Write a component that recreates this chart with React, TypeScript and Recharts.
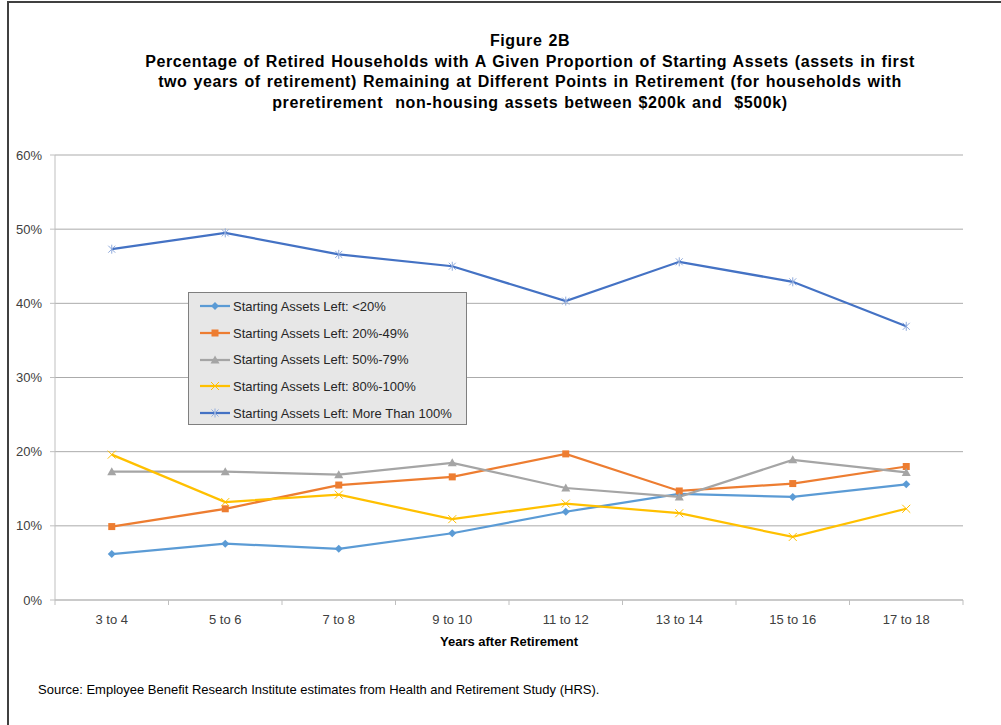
import { LineChart, Line, XAxis, YAxis, CartesianGrid, Legend } from 'recharts';

const periods = ['3 to 4', '5 to 6', '7 to 8', '9 to 10', '11 to 12', '13 to 14', '15 to 16', '17 to 18'];

const under20 = [6.2, 7.6, 6.9, 9.0, 11.9, 14.3, 13.9, 15.6];
const from20to49 = [9.9, 12.3, 15.5, 16.6, 19.7, 14.7, 15.7, 18.0];
const from50to79 = [17.3, 17.3, 16.9, 18.5, 15.1, 13.9, 18.9, 17.2];
const from80to100 = [19.6, 13.2, 14.2, 10.9, 13.0, 11.7, 8.5, 12.3];
const over100 = [47.3, 49.5, 46.6, 45.0, 40.3, 45.6, 42.9, 36.9];

const yTicks = [0, 10, 20, 30, 40, 50, 60];

const seriesNames = [
  'Starting Assets Left: <20%',
  'Starting Assets Left: 20%-49%',
  'Starting Assets Left: 50%-79%',
  'Starting Assets Left: 80%-100%',
  'Starting Assets Left: More Than 100%',
];

const data = periods.map((p, i) => ({
  period: p,
  s1: under20[i],
  s2: from20to49[i],
  s3: from50to79[i],
  s4: from80to100[i],
  s5: over100[i],
}));

const W = 1001;
const H = 725;
const MARGIN = { top: 155, right: 38, left: 0, bottom: 75 };
const Y_AXIS_W = 55;
const BAND = (W - MARGIN.left - MARGIN.right - Y_AXIS_W) / periods.length;
const FONT = '"Liberation Sans", Arial, sans-serif';

type MarkerKind = 'diamond' | 'square' | 'triangle' | 'cross' | 'star';

const SERIES: { key: string; name: string; color: string; marker: MarkerKind }[] = [
  { key: 's1', name: seriesNames[0], color: '#5B9BD5', marker: 'diamond' },
  { key: 's2', name: seriesNames[1], color: '#ED7D31', marker: 'square' },
  { key: 's3', name: seriesNames[2], color: '#A5A5A5', marker: 'triangle' },
  { key: 's4', name: seriesNames[3], color: '#FFC000', marker: 'cross' },
  { key: 's5', name: seriesNames[4], color: '#4472C4', marker: 'star' },
];

function Marker({ cx, cy, kind, color }: { cx: number; cy: number; kind: MarkerKind; color: string }) {
  if (cx == null || cy == null) return null;
  switch (kind) {
    case 'diamond':
      return <polygon points={`${cx},${cy - 4} ${cx + 4},${cy} ${cx},${cy + 4} ${cx - 4},${cy}`} fill={color} />;
    case 'square':
      return <rect x={cx - 3.5} y={cy - 3.5} width={7} height={7} fill={color} />;
    case 'triangle':
      return <polygon points={`${cx},${cy - 4.5} ${cx + 4.5},${cy + 3.5} ${cx - 4.5},${cy + 3.5}`} fill={color} />;
    case 'cross':
      return (
        <g stroke={color} strokeWidth={1}>
          <line x1={cx - 4} y1={cy - 4} x2={cx + 4} y2={cy + 4} />
          <line x1={cx - 4} y1={cy + 4} x2={cx + 4} y2={cy - 4} />
        </g>
      );
    default:
      return (
        <g stroke="#8FAADC" strokeWidth={1}>
          <line x1={cx - 3.5} y1={cy - 3.5} x2={cx + 3.5} y2={cy + 3.5} />
          <line x1={cx - 3.5} y1={cy + 3.5} x2={cx + 3.5} y2={cy - 3.5} />
          <line x1={cx} y1={cy - 4.5} x2={cx} y2={cy + 4.5} />
        </g>
      );
  }
}

function CategoryTick(props: any) {
  const { x, y, payload, index } = props;
  const last = index === periods.length - 1;
  return (
    <g>
      <line x1={x - BAND / 2} y1={y} x2={x - BAND / 2} y2={y + 5} stroke="#BFBFBF" />
      {last && <line x1={x + BAND / 2} y1={y} x2={x + BAND / 2} y2={y + 5} stroke="#BFBFBF" />}
      <text x={x} y={y + 24} textAnchor="middle" fontSize={13} fill="#404040" fontFamily={FONT}>
        {payload.value}
      </text>
    </g>
  );
}

function LegendBox() {
  return (
    <div
      style={{
        width: 279,
        height: 133,
        background: '#E7E7E7',
        border: '1px solid #7F7F7F',
        fontFamily: FONT,
        fontSize: 13,
        color: '#262626',
        paddingTop: 0,
        boxSizing: 'border-box',
      }}
    >
      {SERIES.map((s) => (
        <div key={s.key} style={{ height: 26.7, display: 'flex', alignItems: 'center' }}>
          <svg width={44} height={14} style={{ flexShrink: 0 }}>
            <line x1={11} y1={7} x2={41} y2={7} stroke={s.color} strokeWidth={2.25} />
            <Marker cx={26} cy={7} kind={s.marker} color={s.color} />
          </svg>
          <span style={{ whiteSpace: 'nowrap' }}>{s.name}</span>
        </div>
      ))}
    </div>
  );
}

export default function App() {
  return (
    <div style={{ position: 'absolute', left: 0, top: 0, width: W, height: H, background: '#fff', overflow: 'hidden' }}>
      <div style={{ position: 'absolute', left: 7, top: 1, width: W - 7, height: 1.5, background: '#404040' }} />
      <div style={{ position: 'absolute', left: 7, top: 1, width: 1.5, height: H - 1, background: '#404040' }} />
      <div
        style={{
          position: 'absolute',
          left: 0,
          top: 31,
          width: 1060,
          textAlign: 'center',
          fontFamily: FONT,
          fontWeight: 'bold',
          fontSize: 16,
          letterSpacing: 0.6,
          wordSpacing: 1,
          lineHeight: '20.6px',
          color: '#000',
        }}
      >
        <div>Figure 2B</div>
        <div>Percentage of Retired Households with A Given Proportion of Starting Assets (assets in first</div>
        <div>two years of retirement) Remaining at Different Points in Retirement (for households with</div>
        <div style={{ whiteSpace: 'pre' }}>preretirement  non-housing assets between $200k and  $500k)</div>
      </div>
      <LineChart width={W} height={H} data={data} margin={MARGIN} style={{ position: 'absolute', left: 0, top: 0 }}>
        <CartesianGrid vertical={false} stroke="#ABABAB" />
        <XAxis
          dataKey="period"
          stroke="#BFBFBF"
          tickLine={false}
          tickSize={0}
          tickMargin={0}
          tick={<CategoryTick />}
          height={50}
          interval={0}
          padding={{ left: BAND / 2, right: BAND / 2 }}
          label={{
            value: 'Years after Retirement',
            position: 'insideBottom',
            offset: 4,
            style: { fontFamily: FONT, fontSize: 13, fontWeight: 'bold', fill: '#000' },
          }}
        />
        <YAxis
          width={Y_AXIS_W}
          domain={[0, 60]}
          ticks={yTicks}
          interval={0}
          stroke="#BFBFBF"
          tickSize={5}
          tickMargin={8}
          tickFormatter={(v: number) => `${v}%`}
          tick={{ fontSize: 13, fill: '#404040', fontFamily: FONT }}
        />
        <Legend
          layout="vertical"
          align="center"
          verticalAlign="middle"
          content={() => <LegendBox />}
          wrapperStyle={{ position: 'absolute', left: 188, top: 292, width: 279, height: 133 }}
        />
        {SERIES.map((s) => (
          <Line
            key={s.key}
            dataKey={s.key}
            name={s.name}
            stroke={s.color}
            strokeWidth={2.25}
            isAnimationActive={false}
            dot={(p: any) => <Marker key={`${s.key}-${p.index}`} cx={p.cx} cy={p.cy} kind={s.marker} color={s.color} />}
            activeDot={false}
          />
        ))}
      </LineChart>
      <div
        style={{
          position: 'absolute',
          left: 38,
          top: 682,
          fontFamily: FONT,
          fontSize: 13,
          color: '#000',
          whiteSpace: 'nowrap',
        }}
      >
        Source: Employee Benefit Research Institute estimates from Health and Retirement Study (HRS).
      </div>
    </div>
  );
}
